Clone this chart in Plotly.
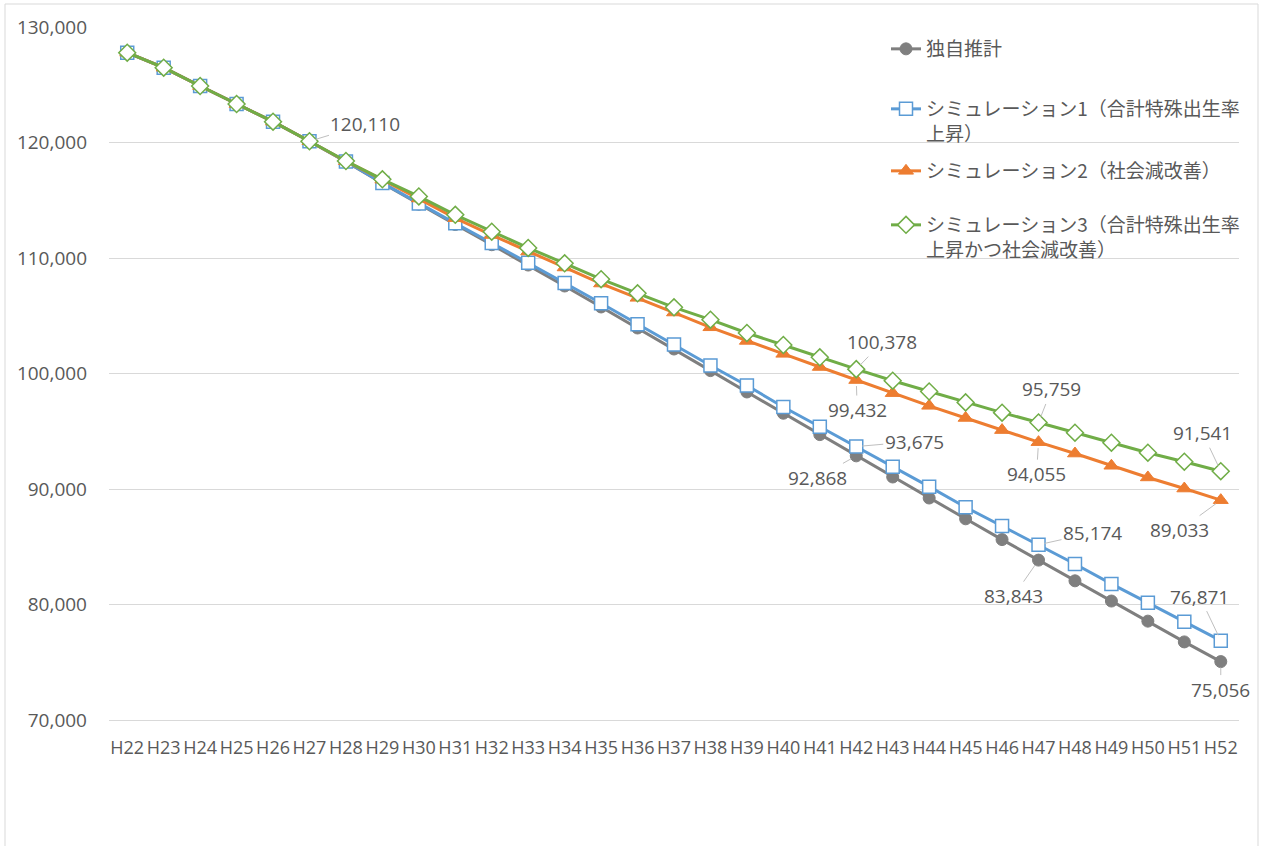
import plotly.graph_objects as go

# Fiscal years (Heisei) on the category axis
years = [f"H{n}" for n in range(22, 53)]

# Projected population by scenario
dokuji = [127775, 126476, 124892, 123333, 121801, 120110, 118330, 116470, 114660, 112900,
          111150, 109390, 107576, 105760, 103940, 102120, 100250, 98400, 96560, 94710,
          92868, 91040, 89220, 87420, 85620, 83843, 82050, 80300, 78560, 76760, 75056]
sim1 = [127775, 126476, 124892, 123333, 121801, 120110, 118350, 116500, 114720, 113000,
        111300, 109590, 107840, 106080, 104270, 102510, 100690, 98960, 97100, 95390,
        93675, 91930, 90200, 88420, 86800, 85174, 83510, 81780, 80160, 78510, 76871]
sim2 = [127775, 126476, 124892, 123333, 121801, 120110, 118380, 116780, 115150, 113450,
        111990, 110560, 109180, 107790, 106550, 105280, 104000, 102820, 101700, 100560,
        99432, 98300, 97200, 96150, 95100, 94055, 93070, 92010, 91000, 90040, 89033]
sim3 = [127775, 126476, 124892, 123333, 121801, 120110, 118398, 116814, 115330, 113740,
        112277, 110870, 109541, 108165, 106944, 105732, 104658, 103507, 102468, 101403,
        100378, 99377, 98440, 97500, 96610, 95759, 94875, 94009, 93143, 92364, 91541]

names = [
    "独自推計",
    "シミュレーション1（合計特殊出生率<br>上昇）",
    "シミュレーション2（社会減改善）",
    "シミュレーション3（合計特殊出生率<br>上昇かつ社会減改善）",
]

TEXT = "#595959"
GRID = "#d9d9d9"
FONT = "Open Sans, Noto Sans CJK JP, sans-serif"

W, H = 1263, 846
L, R, T, B = 109, 24, 27, 126
pw, ph = W - L - R, H - T - B

styles = [
    dict(color="#7f7f7f", marker=dict(symbol="circle", size=12, color="#7f7f7f",
                                      line=dict(color="#7f7f7f", width=1))),
    dict(color="#5b9bd5", marker=dict(symbol="square", size=13, color="white",
                                      line=dict(color="#5b9bd5", width=1.5))),
    dict(color="#ed7d31", marker=dict(symbol="triangle-up", size=13, color="#ed7d31",
                                      line=dict(color="#ed7d31", width=1))),
    dict(color="#70ad47", marker=dict(symbol="diamond", size=13, color="white",
                                      line=dict(color="#70ad47", width=1.5))),
]

# Each legend entry gets its own legend box so the vertical spacing can be set per entry
legend_tops = [30, 90, 152, 206]
legend_ids = ["legend", "legend2", "legend3", "legend4"]

fig = go.Figure()
for series, name, st, lid in zip([dokuji, sim1, sim2, sim3], names, styles, legend_ids):
    fig.add_trace(go.Scatter(
        x=years, y=series, name=name, mode="lines+markers",
        line=dict(color=st["color"], width=3),
        marker=st["marker"], legend=lid,
    ))

# Value labels with leader lines: (series, year index, dx, dy)
labels = [
    (dokuji, 5, 56, -17),
    (sim3, 20, 26, -27),
    (sim2, 20, 1, 30),
    (sim1, 20, 58, -5),
    (dokuji, 20, -39, 22),
    (sim3, 25, 13, -33),
    (sim2, 25, -2, 32),
    (sim1, 25, 54, -12),
    (dokuji, 25, -25, 36),
    (sim3, 30, -18, -38),
    (sim2, 30, -41, 30),
    (sim1, 30, -21, -44),
    (dokuji, 30, 0, 28),
]
for series, idx, dx, dy in labels:
    fig.add_annotation(
        x=years[idx], y=series[idx], text=f"{series[idx]:,}",
        showarrow=True, arrowhead=0, arrowwidth=1, arrowcolor="#bfbfbf",
        ax=dx, ay=dy, standoff=6,
        font=dict(family=FONT, size=19, color=TEXT),
    )

# Outer chart border
fig.add_shape(
    type="rect", xref="paper", yref="paper",
    x0=(5 - L) / pw, x1=(1258 - L) / pw,
    y0=(H - B - 870) / ph, y1=(H - B - 4) / ph,
    line=dict(color=GRID, width=1), fillcolor="rgba(0,0,0,0)", layer="below",
)

legend_common = dict(
    xanchor="left", yanchor="top",
    font=dict(family="Noto Sans CJK JP, sans-serif", size=19, color=TEXT),
    bgcolor="rgba(0,0,0,0)", valign="top", itemwidth=30,
)
legend_layout = {
    lid: dict(x=(886 - L) / pw, y=(H - B - top) / ph, **legend_common)
    for lid, top in zip(legend_ids, legend_tops)
}

fig.update_layout(
    width=W, height=H,
    margin=dict(l=L, r=R, t=T, b=B, autoexpand=False),
    paper_bgcolor="white", plot_bgcolor="white",
    font=dict(family=FONT, color=TEXT, size=18),
    showlegend=True,
    xaxis=dict(
        type="category", range=[-0.5, 30.5], showgrid=False,
        showline=True, linecolor=GRID, linewidth=1, ticks="",
        tickfont=dict(size=18, color=TEXT), ticklabelstandoff=11,
        fixedrange=True,
    ),
    yaxis=dict(
        range=[70000, 130000], tickvals=list(range(70000, 130001, 10000)),
        tickformat=",", showgrid=True, gridcolor=GRID, gridwidth=1,
        zeroline=False, showline=False, ticks="",
        tickfont=dict(size=19, color=TEXT), ticklabelstandoff=21,
    ),
    **legend_layout,
)

fig.write_html("out.html")
